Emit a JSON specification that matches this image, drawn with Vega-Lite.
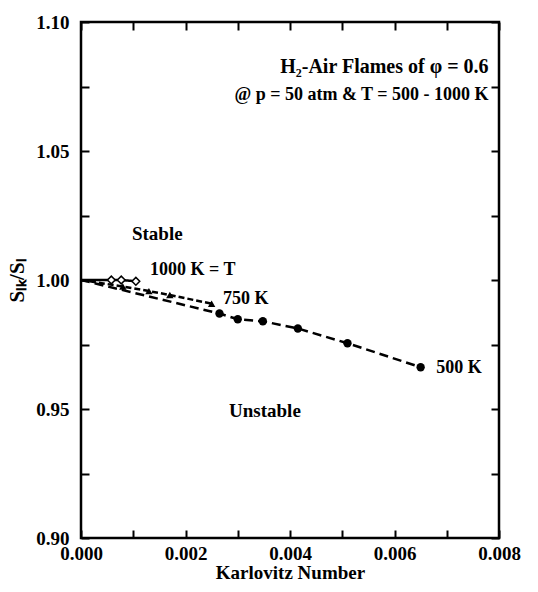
{
  "$schema": "https://vega.github.io/schema/vega-lite/v6.json",
  "width": 418,
  "height": 516,
  "autosize": {"type": "none"},
  "padding": {"left": 81, "top": 22, "right": 39, "bottom": 54},
  "background": "white",
  "config": {
    "view": {"stroke": "black", "strokeWidth": 2.5},
    "font": "Liberation Serif",
    "axis": {
      "domain": false, "grid": false,
      "tickColor": "black", "tickWidth": 2, "tickSize": -8,
      "labelFont": "Liberation Serif", "labelFontWeight": "bold", "labelFontSize": 19, "labelColor": "black",
      "titleFont": "Liberation Serif", "titleFontWeight": "bold", "titleFontSize": 19, "titleColor": "black"
    }
  },
  "datasets": {
    "pts": [
      {"series": "1000 K", "Ka": 0, "ratio": 1.0, "m": 0},
      {"series": "1000 K", "Ka": 0.00058, "ratio": 1.0, "m": 1},
      {"series": "1000 K", "Ka": 0.00077, "ratio": 1.0, "m": 1},
      {"series": "1000 K", "Ka": 0.00105, "ratio": 0.9995, "m": 1},
      {"series": "750 K", "Ka": 0, "ratio": 1.0, "m": 0},
      {"series": "750 K", "Ka": 0.0008, "ratio": 0.9975, "m": 1},
      {"series": "750 K", "Ka": 0.0013, "ratio": 0.9957, "m": 1},
      {"series": "750 K", "Ka": 0.0017, "ratio": 0.9942, "m": 1},
      {"series": "750 K", "Ka": 0.0025, "ratio": 0.9908, "m": 1},
      {"series": "500 K", "Ka": 0, "ratio": 1.0, "m": 0},
      {"series": "500 K", "Ka": 0.00265, "ratio": 0.987, "m": 1},
      {"series": "500 K", "Ka": 0.0030, "ratio": 0.9848, "m": 1},
      {"series": "500 K", "Ka": 0.00348, "ratio": 0.984, "m": 1},
      {"series": "500 K", "Ka": 0.00415, "ratio": 0.9812, "m": 1},
      {"series": "500 K", "Ka": 0.0051, "ratio": 0.9755, "m": 1},
      {"series": "500 K", "Ka": 0.0065, "ratio": 0.9662, "m": 1}
    ],
    "notes": [
      {"text": "1000 K = T", "Ka": 0.00132, "ratio": 1.004, "kind": "left"},
      {"text": "750 K", "Ka": 0.00272, "ratio": 0.9925, "kind": "left"},
      {"text": "500 K", "Ka": 0.0068, "ratio": 0.966, "kind": "left"},
      {"text": "Stable", "Ka": 0.00146, "ratio": 1.018, "kind": "center"},
      {"text": "Unstable", "Ka": 0.00352, "ratio": 0.9493, "kind": "center"},
      {"text": "H₂-Air Flames of φ = 0.6", "Ka": 0.0078, "ratio": 1.0825, "kind": "title1"},
      {"text": "@ p = 50 atm & T = 500 - 1000 K", "Ka": 0.0078, "ratio": 1.0717, "kind": "title2"}
    ]
  },
  "layer": [
    {
      "encoding": {
        "x": {
          "field": "Ka", "type": "quantitative",
          "scale": {"domain": [0, 0.008], "nice": false, "zero": false},
          "axis": {
            "title": "Karlovitz Number",
            "values": [0, 0.001, 0.002, 0.003, 0.004, 0.005, 0.006, 0.007, 0.008],
            "labelExpr": "round(datum.value*1000) % 2 == 0 ? format(datum.value, '.3f') : ''",
            "labelPadding": 14, "titlePadding": 0, "labelFlush": false
          }
        },
        "y": {
          "field": "ratio", "type": "quantitative",
          "scale": {"domain": [0.9, 1.1], "nice": false, "zero": false},
          "axis": {
            "title": "Sₗₖ/Sₗ",
            "titleFontSize": 21,
            "values": [0.9, 0.925, 0.95, 0.975, 1.0, 1.025, 1.05, 1.075, 1.1],
            "labelExpr": "round(datum.value*1000) % 50 == 0 ? format(datum.value, '.2f') : ''",
            "labelPadding": 20, "titlePadding": 8, "labelFlush": false
          }
        }
      },
      "layer": [
        {
          "data": {"name": "pts"},
          "mark": {"type": "line", "color": "black", "strokeWidth": 2.5},
          "encoding": {
            "detail": {"field": "series"},
            "strokeDash": {
              "field": "series", "type": "nominal",
              "scale": {"domain": ["1000 K", "750 K", "500 K"], "range": [[1, 0], [6, 3], [9, 5]]},
              "legend": null
            }
          }
        },
        {
          "data": {"name": "pts"},
          "transform": [{"filter": "datum.m == 1 && datum.series == '500 K'"}],
          "mark": {"type": "point", "shape": "circle", "filled": true, "color": "black", "size": 70, "opacity": 1}
        },
        {
          "data": {"name": "pts"},
          "transform": [{"filter": "datum.m == 1 && datum.series == '750 K'"}],
          "mark": {"type": "point", "shape": "triangle-up", "filled": true, "color": "black", "size": 55, "opacity": 1}
        },
        {
          "data": {"name": "pts"},
          "transform": [{"filter": "datum.m == 1 && datum.series == '1000 K'"}],
          "mark": {"type": "point", "shape": "diamond", "filled": true, "fill": "white", "stroke": "black", "strokeWidth": 1.5, "size": 60, "opacity": 1}
        },
        {
          "data": {"name": "notes"},
          "transform": [{"filter": "datum.kind == 'left'"}],
          "mark": {"type": "text", "align": "left", "font": "Liberation Serif", "fontWeight": "bold", "fontSize": 18, "color": "black", "baseline": "middle"},
          "encoding": {"text": {"field": "text"}}
        },
        {
          "data": {"name": "notes"},
          "transform": [{"filter": "datum.kind == 'center'"}],
          "mark": {"type": "text", "align": "center", "font": "Liberation Serif", "fontWeight": "bold", "fontSize": 19, "color": "black", "baseline": "middle"},
          "encoding": {"text": {"field": "text"}}
        },
        {
          "data": {"name": "notes"},
          "transform": [{"filter": "datum.kind == 'title1'"}],
          "mark": {"type": "text", "align": "right", "font": "Liberation Serif", "fontWeight": "bold", "fontSize": 20, "color": "black", "baseline": "middle"},
          "encoding": {"text": {"field": "text"}}
        },
        {
          "data": {"name": "notes"},
          "transform": [{"filter": "datum.kind == 'title2'"}],
          "mark": {"type": "text", "align": "right", "font": "Liberation Serif", "fontWeight": "bold", "fontSize": 18, "color": "black", "baseline": "middle"},
          "encoding": {"text": {"field": "text"}}
        }
      ]
    },
    {
      "data": {"name": "pts"},
      "mark": {"type": "point", "opacity": 0},
      "encoding": {
        "x": {
          "field": "Ka", "type": "quantitative",
          "scale": {"domain": [0, 0.008], "nice": false, "zero": false},
          "axis": {"orient": "top", "title": null, "labels": false,
                   "values": [0, 0.001, 0.002, 0.003, 0.004, 0.005, 0.006, 0.007, 0.008]}
        },
        "y": {
          "field": "ratio", "type": "quantitative",
          "scale": {"domain": [0.9, 1.1], "nice": false, "zero": false},
          "axis": {"orient": "right", "title": null, "labels": false,
                   "values": [0.9, 0.925, 0.95, 0.975, 1.0, 1.025, 1.05, 1.075, 1.1]}
        }
      }
    }
  ],
  "resolve": {"axis": {"x": "independent", "y": "independent"}}
}
